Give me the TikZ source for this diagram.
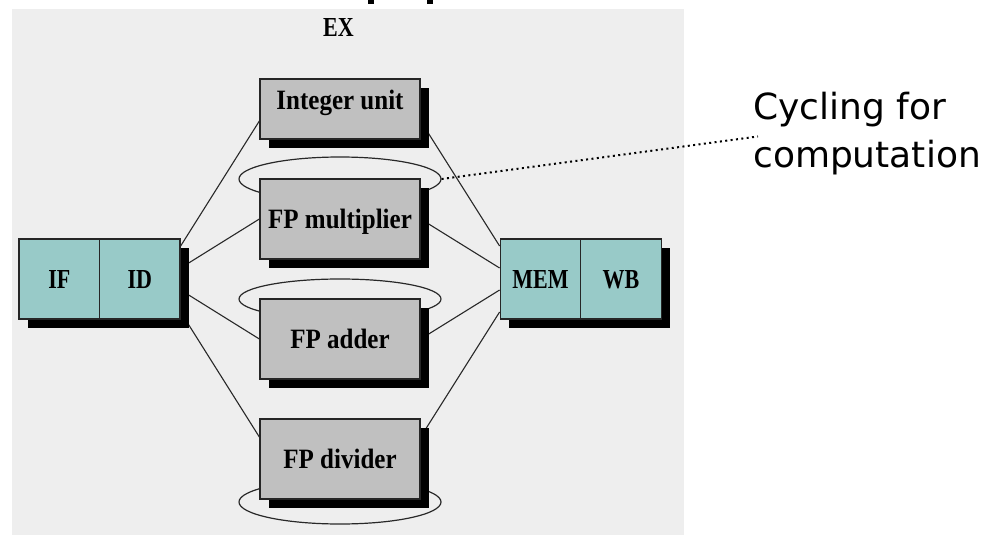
\documentclass[tikz,border=0pt]{standalone}
\usepackage{fontspec}
\usepackage{graphicx}
\setmainfont{Liberation Serif}
\newfontfamily\notefont{DejaVu Sans}
\usetikzlibrary{shapes.geometric,calc,shadows}

\definecolor{panel}{RGB}{238,238,238}
\definecolor{unitgray}{RGB}{192,192,192}
\definecolor{stageteal}{RGB}{152,202,200}
\definecolor{wirecol}{RGB}{40,40,40}

\pgfdeclarelayer{back}
\pgfsetlayers{back,main}

% box labels are a little taller than plain Times Bold; capitals a little narrower
\newcommand{\tall}[1]{\scalebox{1}[1.12]{#1}}
\newcommand{\capsfit}[1]{\scalebox{0.88}[1.1]{#1}}

\begin{document}
\begin{tikzpicture}[x=1pt,y=-1pt,
  boxbase/.style={draw=black!85, line width=1.3pt, inner sep=0pt,
    text height=18pt, text depth=0pt,
    font=\fontsize{25}{30}\selectfont\bfseries,
    drop shadow={shadow xshift=9pt, shadow yshift=-9pt, fill=black, opacity=1}},
  unit/.style={boxbase, fill=unitgray, minimum width=160pt, minimum height=80pt},
  stagecell/.style={boxbase, fill=stageteal, minimum width=80.5pt, minimum height=80pt},
  wire/.style={draw=wirecol, line width=1.1pt},
  loop/.style={draw=wirecol, line width=1.2pt, ellipse, inner sep=0pt, minimum width=202pt},
  leader/.style={draw=black, line width=2pt, dash pattern=on 2pt off 3.4pt}
]
\useasboundingbox (0,0) rectangle (990,535);

% pipeline stages
\node[stagecell] (if) at (59.25,279) {\capsfit{IF}};
\node[stagecell] (id) at (139.75,279) {\capsfit{ID}};
\node[stagecell] (mem) at (540.5,279) {\capsfit{MEM}};
\node[stagecell] (wb) at (621,279) {\capsfit{WB}};

% execution units
\node[unit, minimum height=60pt] (intu) at (340,109) {\raisebox{9pt}{\tall{Integer unit}}};
\node[unit] (fpmul) at (340,219) {\tall{FP multiplier}};
\node[unit] (fpadd) at (340,339) {\tall{FP adder}};
\node[unit] (fpdiv) at (340,459) {\tall{FP divider}};

\node[anchor=base, inner sep=0pt, font=\fontsize{25}{30}\selectfont\bfseries]
  (ex) at (338.5,37) {\capsfit{EX}};

% side note (anchored on the baseline of its last line)
\node[anchor=base west, inner sep=0pt, align=left,
  font=\notefont\fontsize{36}{48}\selectfont] (note) at (753,167)
  {Cycling for\\computation};

\begin{pgfonlayer}{back}
  \fill[panel] (12,9) rectangle (684,535);
  \fill[black] (368,0) rectangle (374,4);
  \fill[black] (427,0) rectangle (433,4);

  % issue paths from ID
  \draw[wire] ($(id.east)+(0,-33)$) -- ($(intu.west)+(0,12)$);
  \draw[wire] ($(id.east)+(0,-11)$) -- (fpmul.west);
  \draw[wire] ($(id.east)+(0,11)$) -- (fpadd.west);
  \draw[wire] ($(id.east)+(0,33)$) -- ($(fpdiv.west)+(0,-22)$);

  % completion paths into MEM
  \draw[wire] ($(intu.east)+(0,12)$) -- ($(mem.west)+(0,-33)$);
  \draw[wire] (fpmul.east) -- ($(mem.west)+(0,-11)$);
  \draw[wire] (fpadd.east) -- ($(mem.west)+(0,11)$);
  \draw[wire] ($(fpdiv.east)+(0,-22)$) -- ($(mem.west)+(0,33)$);

  % multi-cycle loops
  \node[loop, minimum height=44pt] (loopmul) at (340,179) {};
  \node[loop, minimum height=40pt] (loopadd) at (340,299) {};
  \node[loop, minimum height=44pt] (loopdiv) at (340,502) {};

  \draw[leader] (loopmul.east) -- ($(note.north west)+(5,45)$);
\end{pgfonlayer}
\end{tikzpicture}
\end{document}
